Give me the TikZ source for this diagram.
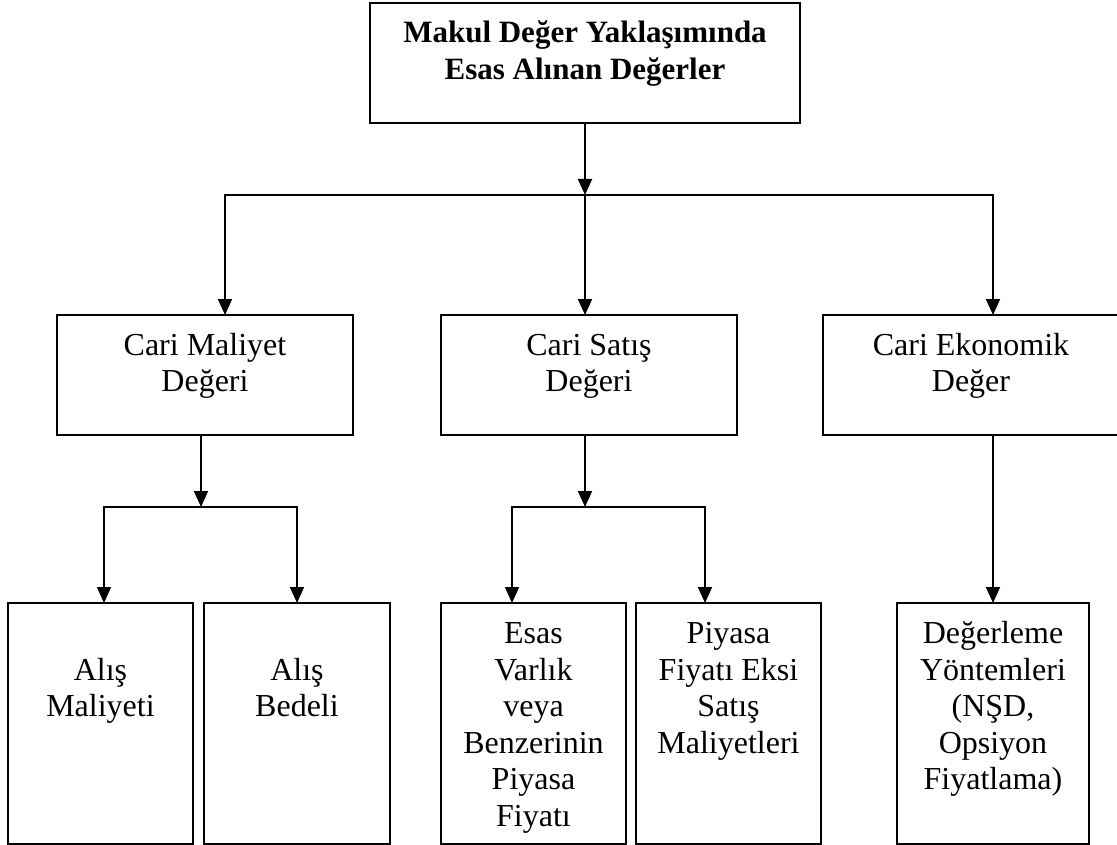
\documentclass[tikz,border=0pt]{standalone}
\usepackage{fontspec}
\setmainfont{Liberation Serif}
\usetikzlibrary{arrows.meta}
% box contents: width, height, top padding, centred lines
\newcommand{\cellbox}[4]{\parbox[c][#2][t]{#1}{\centering\vspace*{#3}\strut #4}}

\begin{document}
\begin{tikzpicture}[x=1pt,y=-1pt,
  cell/.style={draw, line width=1.8pt, inner sep=0pt, outer sep=0pt, anchor=north west,
               font=\fontsize{32}{36.6}\selectfont},
  link/.style={line width=1.8pt},
  arr/.style={link, -{Triangle[length=16pt,width=14pt]}}]
\useasboundingbox (0,0) rectangle (1117,845);

% root
\node[cell, font=\fontsize{31}{37}\selectfont\bfseries] (top) at (370,3)
  {\cellbox{430pt}{120pt}{14.1pt}{Makul Değer Yaklaşımında\\Esas Alınan Değerler}};

% second level
\node[cell] (cm) at (57,315)  {\cellbox{296pt}{120pt}{14.4pt}{Cari Maliyet\\Değeri}};
\node[cell] (cs) at (441,315) {\cellbox{296pt}{120pt}{14.4pt}{Cari Satış\\Değeri}};
\node[cell] (ce) at (823,315) {\cellbox{296pt}{120pt}{14.4pt}{Cari Ekonomik\\Değer}};

% third level
\node[cell] (a1) at (8,603)   {\cellbox{185pt}{241pt}{14.9pt}{\\Alış\\Maliyeti}};
\node[cell] (a2) at (204,603) {\cellbox{186pt}{241pt}{14.9pt}{\\Alış\\Bedeli}};
\node[cell] (a3) at (441,603) {\cellbox{185pt}{241pt}{14.9pt}{Esas\\Varlık\\veya\\Benzerinin\\Piyasa\\Fiyatı}};
\node[cell] (a4) at (636,603) {\cellbox{185pt}{241pt}{14.9pt}{Piyasa\\Fiyatı Eksi\\Satış\\Maliyetleri}};
\node[cell] (a5) at (897,603) {\cellbox{192pt}{241pt}{14.9pt}{Değerleme\\Yöntemleri\\(NŞD,\\Opsiyon\\Fiyatlama)}};

% junction points
\coordinate (j0) at (585,195);
\coordinate (jL) at (225,195);
\coordinate (jR) at (993,195);
\coordinate (k1) at (201,507);
\coordinate (k1L) at (104,507);
\coordinate (k1R) at (297,507);
\coordinate (k2) at (585,507);
\coordinate (k2L) at (512,507);
\coordinate (k2R) at (705,507);

% root to second level
\draw[arr] (j0 |- top.south) -- (j0);
\draw[arr] (j0) -| (jL |- cm.north);
\draw[arr] (j0) -| (jR |- ce.north);
\draw[arr] (j0) -- (j0 |- cs.north);

% Cari Maliyet branch
\draw[arr] (k1 |- cm.south) -- (k1);
\draw[arr] (k1) -| (k1L |- a1.north);
\draw[arr] (k1) -| (k1R |- a2.north);

% Cari Satış branch
\draw[arr] (k2 |- cs.south) -- (k2);
\draw[arr] (k2) -| (k2L |- a3.north);
\draw[arr] (k2) -| (k2R |- a4.north);

% Cari Ekonomik branch
\draw[arr] (jR |- ce.south) -- (jR |- a5.north);
\end{tikzpicture}
\end{document}
